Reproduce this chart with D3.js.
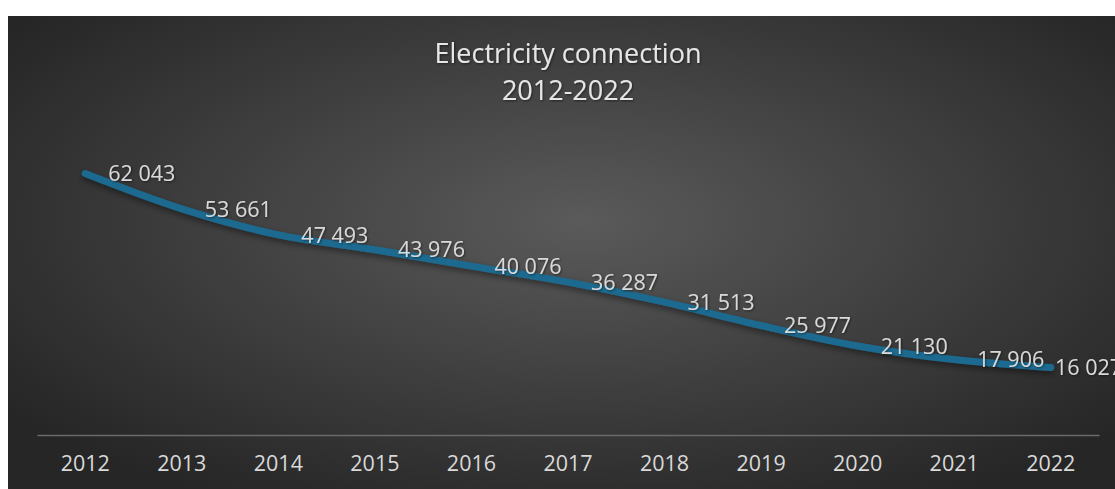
<!DOCTYPE html>
<html>
<head>
<meta charset="utf-8">
<script src="https://cdn.jsdelivr.net/npm/d3@7"></script>
<style>
    body { margin: 0; background: #ffffff; }
    svg text { font-family: "Open Sans", "Noto Sans", sans-serif; }
</style>
</head>
<body>
<script>
// chart values
var years = ["2012", "2013", "2014", "2015", "2016", "2017",
             "2018", "2019", "2020", "2021", "2022"];
var connections = [62043, 53661, 47493, 43976, 40076, 36287,
                   31513, 25977, 21130, 17906, 16027];
var titleLines = ["Electricity connection", "2012-2022"];

var data = years.map(function(y, i) {
    return {key: y, value: connections[i]};
});

var totalW = 1115, totalH = 489;
var margin = {top: 140, right: 16, bottom: 55, left: 37},
    width = 1099 - margin.left,
    height = 435 - margin.top;

var svg = d3.select("body").append("svg")
    .attr("width", totalW)
    .attr("height", totalH);

var defs = svg.append("defs");

// dark radial background, lighter in the middle
var grad = defs.append("radialGradient")
    .attr("id", "bg")
    .attr("cx", "50%").attr("cy", "40%")
    .attr("r", "62%");
grad.append("stop").attr("offset", "0%").attr("stop-color", "#5a5a5a");
grad.append("stop").attr("offset", "100%").attr("stop-color", "#262626");

var shadow = defs.append("filter")
    .attr("id", "shadow")
    .attr("x", "-10%").attr("y", "-30%")
    .attr("width", "120%").attr("height", "180%");
shadow.append("feDropShadow")
    .attr("dx", 0).attr("dy", 3)
    .attr("stdDeviation", 3)
    .attr("flood-color", "#000")
    .attr("flood-opacity", 0.45);

var textShadow = defs.append("filter")
    .attr("id", "tshadow")
    .attr("x", "-10%").attr("y", "-30%")
    .attr("width", "120%").attr("height", "170%");
textShadow.append("feDropShadow")
    .attr("dx", 1).attr("dy", 1)
    .attr("stdDeviation", 1)
    .attr("flood-color", "#000")
    .attr("flood-opacity", 0.5);

svg.append("rect")
    .attr("x", 8).attr("y", 16)
    .attr("width", totalW - 8 + 40)
    .attr("height", totalH - 16 + 40)
    .attr("fill", "url(#bg)");

var g = svg.append("g")
    .attr("transform", "translate(" + margin.left + "," + margin.top + ")");

var xScale = d3.scaleBand().range([0, width]).domain(years);
var yScale = d3.scaleLinear().range([height, 0]).domain([0, 70000]);

function cx(d) { return xScale(d.key) + xScale.bandwidth() / 2; }

// category axis
var xAxis = d3.axisBottom(xScale).tickSize(0).tickPadding(21);
var ax = g.append("g")
    .attr("class", "x axis")
    .attr("transform", "translate(0," + height + ")")
    .call(xAxis);
ax.select(".domain")
    .attr("stroke", "#6a6a6a")
    .attr("stroke-width", 1.5);
ax.selectAll("text")
    .attr("font-size", "21.5px")
    .attr("fill", "#d9d9d9")
    .attr("font-family", "'Open Sans', sans-serif");

// smoothed line
var line = d3.line()
    .x(cx)
    .y(function(d) { return yScale(d.value); })
    .curve(d3.curveCatmullRom.alpha(0.5));

g.append("path")
    .datum(data)
    .attr("d", line)
    .attr("fill", "none")
    .attr("stroke", "#1b6a90")
    .attr("stroke-width", 7)
    .attr("stroke-linecap", "round")
    .attr("filter", "url(#shadow)");

// value labels to the right of each point, kept inside the chart
var fmt = function(v) { return d3.format(",")(v).replace(",", " "); };
var maxLabelX = 1055 - margin.left;
g.selectAll("text.lbl")
    .data(data)
    .enter()
    .append("text")
    .attr("class", "lbl")
    .attr("x", function(d) { return Math.min(cx(d) + 23, maxLabelX); })
    .attr("y", function(d) { return yScale(d.value); })
    .attr("dy", "0.36em")
    .attr("font-size", "21.5px")
    .attr("fill", "#d9d9d9")
    .attr("filter", "url(#tshadow)")
    .text(function(d) { return fmt(d.value); });

// title
svg.append("text")
    .attr("x", 568)
    .attr("y", 63)
    .attr("text-anchor", "middle")
    .attr("font-size", "27px")
    .attr("fill", "#e6e6e6")
    .attr("filter", "url(#tshadow)")
    .selectAll("tspan")
    .data(titleLines)
    .enter()
    .append("tspan")
    .attr("x", 568)
    .attr("dy", function(d, i) { return i === 0 ? 0 : 37; })
    .text(function(d) { return d; });
</script>
</body>
</html>
